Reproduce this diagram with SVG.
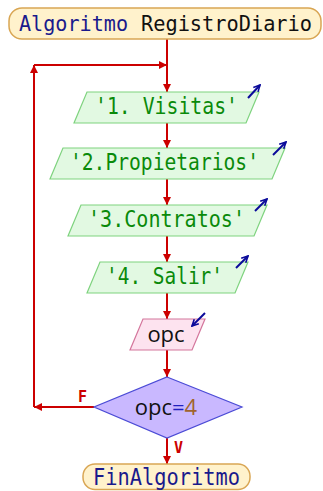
<svg xmlns="http://www.w3.org/2000/svg" width="323" height="491" viewBox="0 0 323 491">
<defs>
<style>
.term{fill:#fff2cc;stroke:#d9a654;stroke-width:1.5}
.out{fill:#e2f9e2;stroke:#7fd37f;stroke-width:1.2}
.inp{fill:#fde3ef;stroke:#d4769c;stroke-width:1.2}
.dec{fill:#c9b8ff;stroke:#4b4bd6;stroke-width:1.2}
.mono{font-family:"DejaVu Sans Mono","Liberation Mono",monospace;font-size:23px}
.sans{font-family:"Open Sans","DejaVu Sans",sans-serif;font-size:22px}
.kw{fill:#1a1a8c}
.str{fill:#0a8a0a}
.flow{stroke:#cc0000;stroke-width:2;fill:none}
.io{stroke:#0a0a9a;stroke-width:2;fill:none}
.lbl{font-family:"DejaVu Sans Mono","Liberation Mono",monospace;font-size:15px;font-weight:bold;fill:#cc0000}
</style>
<marker id="ah" viewBox="0 0 10 10" markerUnits="userSpaceOnUse" markerWidth="9" markerHeight="8" refX="10" refY="5" orient="auto">
<path d="M0,0 L10,5 L0,10 z" fill="#cc0000"/>
</marker>
<marker id="ab" viewBox="0 0 10 10" markerUnits="userSpaceOnUse" markerWidth="8" markerHeight="8" refX="9" refY="5" orient="auto">
<path d="M1,1 L9,5 L1,9" fill="none" stroke="#0a0a9a" stroke-width="2"/>
</marker>
</defs>

<g id="connectors">
<line class="flow" x1="167" y1="39" x2="167" y2="92" marker-end="url(#ah)"/>
<line class="flow" x1="167" y1="123" x2="167" y2="148" marker-end="url(#ah)"/>
<line class="flow" x1="167" y1="179" x2="167" y2="205" marker-end="url(#ah)"/>
<line class="flow" x1="167" y1="236" x2="167" y2="262" marker-end="url(#ah)"/>
<line class="flow" x1="167" y1="293" x2="167" y2="319" marker-end="url(#ah)"/>
<line class="flow" x1="167" y1="350" x2="167" y2="377" marker-end="url(#ah)"/>
<line class="flow" x1="167" y1="438" x2="167" y2="464" marker-end="url(#ah)"/>
<line class="flow" x1="94" y1="407" x2="34" y2="407" marker-end="url(#ah)"/>
<line class="flow" x1="34" y1="407" x2="34" y2="65" marker-end="url(#ah)"/>
<line class="flow" x1="34" y1="65" x2="167" y2="65" marker-end="url(#ah)"/>
<text class="lbl" x="78" y="402">F</text>
<text class="lbl" x="174" y="453">V</text>
</g>

<g id="inicio">
<rect class="term" x="9" y="8" width="312" height="31" rx="13"/>
<text class="mono kw" x="19" y="31" style="font-size:21px" textLength="109" lengthAdjust="spacingAndGlyphs">Algoritmo</text>
<text class="mono" x="141" y="31" style="font-size:21px" textLength="171" lengthAdjust="spacingAndGlyphs" fill="#111">RegistroDiario</text>
</g>

<g id="visitas">
<polygon class="out" points="87,92 259,92 246,123 74,123"/>
<text class="mono str" x="95" y="114" textLength="143" lengthAdjust="spacingAndGlyphs">'1. Visitas'</text>
<line class="io" x1="248" y1="98" x2="260" y2="85" marker-end="url(#ab)"/>
</g>

<g id="propietarios">
<polygon class="out" points="63,148 285,148 272,179 50,179"/>
<text class="mono str" x="70" y="170" textLength="189" lengthAdjust="spacingAndGlyphs">'2.Propietarios'</text>
<line class="io" x1="273" y1="155" x2="286" y2="142" marker-end="url(#ab)"/>
</g>

<g id="contratos">
<polygon class="out" points="81,205 267,205 254,236 68,236"/>
<text class="mono str" x="88" y="227" textLength="157" lengthAdjust="spacingAndGlyphs">'3.Contratos'</text>
<line class="io" x1="255" y1="211" x2="267" y2="199" marker-end="url(#ab)"/>
</g>

<g id="salir">
<polygon class="out" points="100,262 248,262 235,293 87,293"/>
<text class="mono str" x="106" y="284" textLength="117" lengthAdjust="spacingAndGlyphs">'4. Salir'</text>
<line class="io" x1="236" y1="268" x2="248" y2="256" marker-end="url(#ab)"/>
</g>

<g id="leer">
<polygon class="inp" points="143,319 205,319 192,350 130,350"/>
<text class="sans" x="166" y="342" text-anchor="middle" fill="#111">opc</text>
<line class="io" x1="205" y1="313" x2="192" y2="326" marker-end="url(#ab)"/>
</g>

<g id="decision">
<polygon class="dec" points="167,377 242,407 167,438 94,407"/>
<text class="sans" x="166" y="415" text-anchor="middle" fill="#111">opc<tspan fill="#2020c0">=</tspan><tspan fill="#a0642c">4</tspan></text>
</g>

<g id="fin">
<rect class="term" x="83" y="464" width="167" height="25.5" rx="12"/>
<text class="mono kw" x="93" y="485" textLength="147" lengthAdjust="spacingAndGlyphs">FinAlgoritmo</text>
</g>
</svg>
